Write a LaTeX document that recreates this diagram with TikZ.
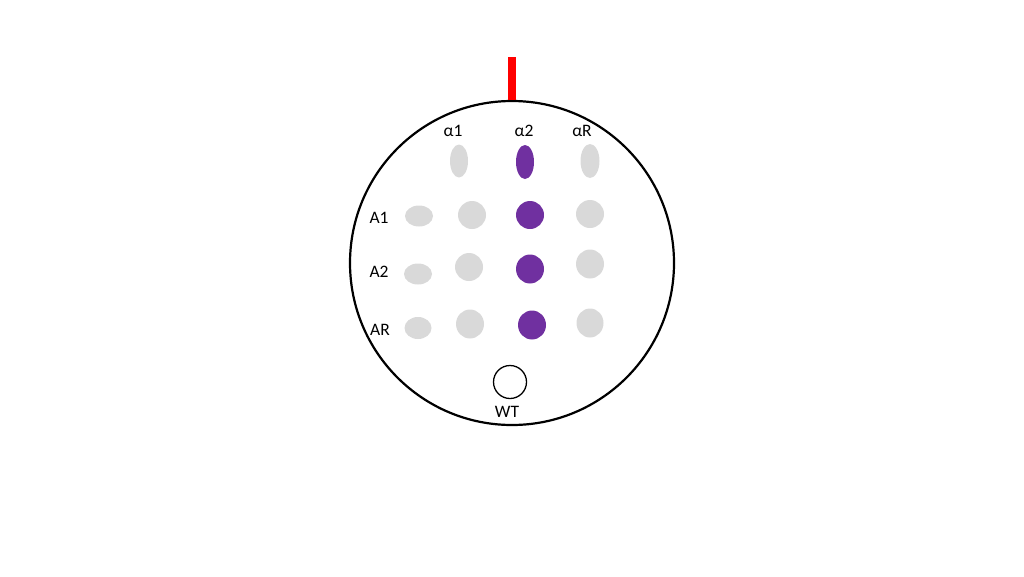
\documentclass[tikz,border=0pt]{standalone}
\usepackage{fontspec}
\setmainfont{Carlito}
\usetikzlibrary{shapes, positioning}
\definecolor{spotgray}{HTML}{D9D9D9}
\definecolor{spotpurple}{HTML}{7030A0}
\begin{document}
\begin{tikzpicture}[x=1pt,y=-1pt,font=\fontsize{17.5}{21}\selectfont]
	\tikzset{plate/.style={draw, circle, line width=2.2pt, minimum size=324pt, inner sep=0pt},
		spot/.style={ellipse, fill=spotgray, inner sep=0pt},
		hit/.style={ellipse, fill=spotpurple, inner sep=0pt},
		probe/.style={line width=8pt, red}}
	\useasboundingbox (0,0) rectangle (1024,576);
	\node[plate] (plate) at (512,263) {};
	\coordinate (tip) at (512,57);
	% column labels
	\node (la1) at (453,131) {α1};
	\node (la2) at (524,131) {α2};
	\node (laR) at (582,131) {αR};
	% row labels
	\node (lA1) at (379,218) {A1};
	\node (lA2) at (379,272) {A2};
	\node (lAR) at (380,330) {AR};
	% top row
	\node[spot, minimum width=18, minimum height=33] (s01) at (459,161) {};
	\node[hit, minimum width=18, minimum height=34] (s02) at (525,162) {};
	\node[spot, minimum width=19, minimum height=34] (s03) at (590,161) {};
	% row A1
	\node[spot, minimum width=28, minimum height=21] (s10) at (419,216) {};
	\node[spot, minimum width=28, minimum height=28] (s11) at (472,215) {};
	\node[hit, minimum width=28, minimum height=28] (s12) at (530,215) {};
	\node[spot, minimum width=28, minimum height=28] (s13) at (590,214) {};
	% row A2
	\node[spot, minimum width=28, minimum height=21] (s20) at (418,274) {};
	\node[spot, minimum width=28, minimum height=28] (s21) at (469,267) {};
	\node[hit, minimum width=28, minimum height=29] (s22) at (530,269) {};
	\node[spot, minimum width=28, minimum height=29] (s23) at (590,264) {};
	% row AR
	\node[spot, minimum width=27, minimum height=22] (s30) at (418,328) {};
	\node[spot, minimum width=28, minimum height=29] (s31) at (470,324) {};
	\node[hit, minimum width=28, minimum height=29] (s32) at (532,325) {};
	\node[spot, minimum width=27, minimum height=29] (s33) at (590,323) {};
	% wild type
	\node[draw, circle, line width=1.3pt, minimum size=33pt, inner sep=0pt] (wt) at (510,382) {};
	\node (lwt) at (507,412) {WT};
	\draw[probe] (tip) -- (plate.north);
\end{tikzpicture}
\end{document}
